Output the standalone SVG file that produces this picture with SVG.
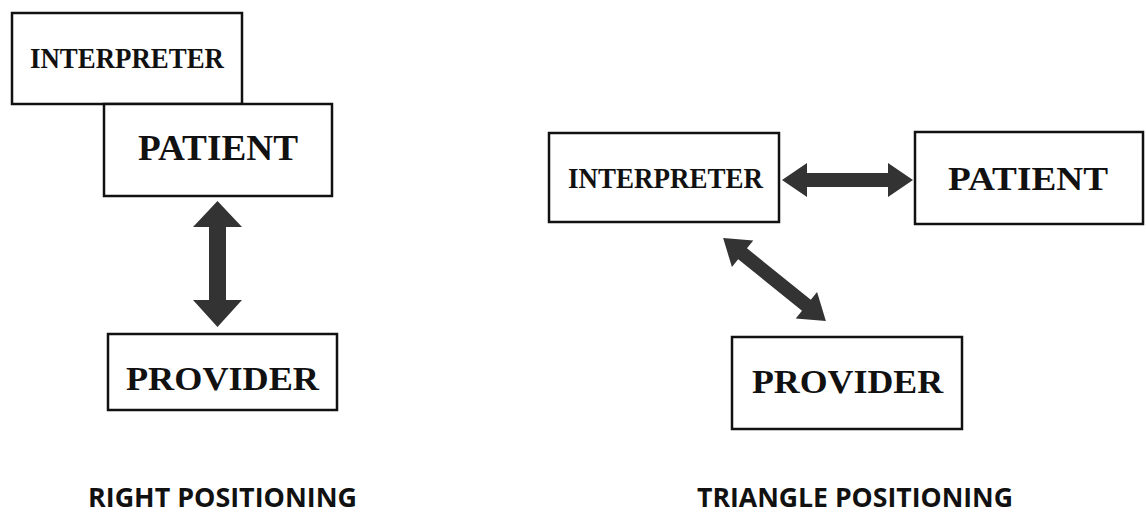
<svg xmlns="http://www.w3.org/2000/svg" width="1146" height="513" viewBox="0 0 1146 513">
<style>
.box{fill:#fff;stroke:#111;stroke-width:2.5}
.lbl{font-family:"Liberation Serif","Times New Roman",serif;font-weight:bold;fill:#111}
.cap{font-family:"Open Sans","Noto Sans",sans-serif;font-weight:bold;fill:#111;font-size:27px}
.arr{fill:#333}
</style>
<rect width="1146" height="513" fill="#fff"/>
<g id="left-interpreter"><rect class="box" x="12" y="13" width="230" height="91"/><text class="lbl" x="30" y="68" font-size="30" textLength="194" lengthAdjust="spacingAndGlyphs">INTERPRETER</text></g>
<g id="left-patient"><rect class="box" x="104" y="104" width="228" height="92"/><text class="lbl" x="138" y="160" font-size="35" textLength="160" lengthAdjust="spacingAndGlyphs">PATIENT</text></g>
<g id="left-provider"><rect class="box" x="108" y="334" width="229" height="76"/><text class="lbl" x="126" y="390" font-size="34" textLength="193" lengthAdjust="spacingAndGlyphs">PROVIDER</text></g>
<g id="right-interpreter"><rect class="box" x="549" y="133" width="230" height="89"/><text class="lbl" x="568" y="188" font-size="29" textLength="195" lengthAdjust="spacingAndGlyphs">INTERPRETER</text></g>
<g id="right-patient"><rect class="box" x="915" y="132" width="228" height="92"/><text class="lbl" x="948" y="190" font-size="34" textLength="160" lengthAdjust="spacingAndGlyphs">PATIENT</text></g>
<g id="right-provider"><rect class="box" x="732" y="337" width="230" height="92"/><text class="lbl" x="752" y="393" font-size="34" textLength="191" lengthAdjust="spacingAndGlyphs">PROVIDER</text></g>
<g id="connectors">
<path class="arr" d="M217.5,201 L242,227 L226,227 L226,300 L242,300 L217.5,327 L193,300 L209,300 L209,227 L193,227 Z"/>
<path class="arr" d="M782,180 L807,163 L807,173 L888,173 L888,163 L913,180 L888,197 L888,187 L807,187 L807,197 Z"/>
<path class="arr" transform="translate(774.5,279.5) rotate(38.9)" d="M-66,0 L-41,-17 L-41,-7 L41,-7 L41,-17 L66,0 L41,17 L41,7 L-41,7 L-41,17 Z"/>
</g>
<text class="cap" x="88" y="507" textLength="269" lengthAdjust="spacingAndGlyphs">RIGHT POSITIONING</text>
<text class="cap" x="697" y="507" textLength="316" lengthAdjust="spacingAndGlyphs">TRIANGLE POSITIONING</text>
</svg>
